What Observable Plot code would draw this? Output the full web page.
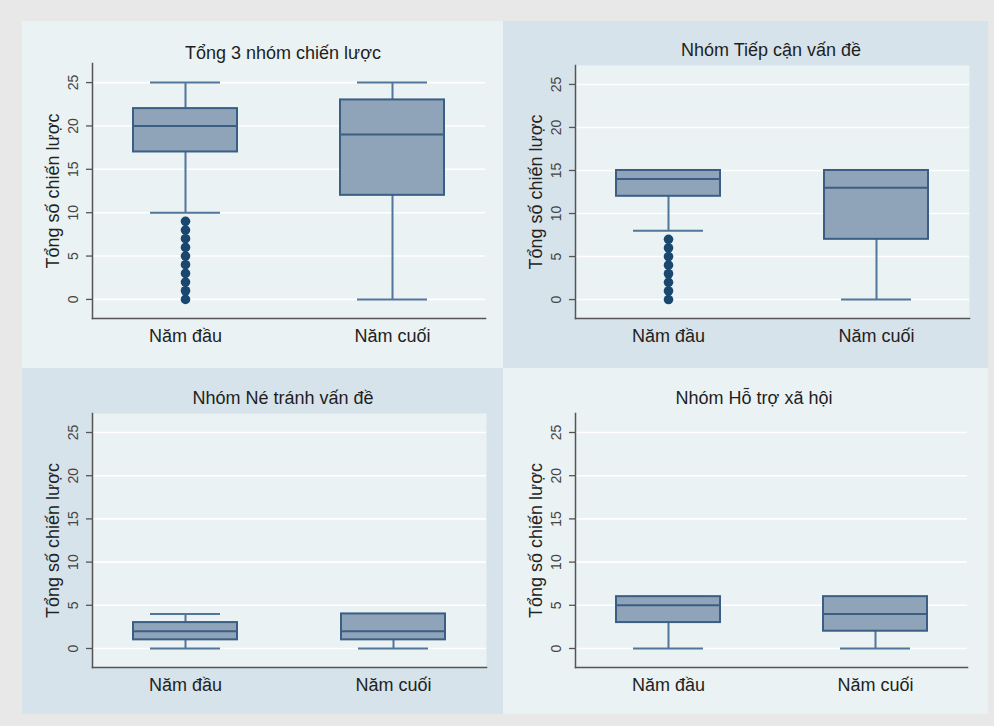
<!DOCTYPE html>
<html><head><meta charset="utf-8">
<script src="https://cdn.jsdelivr.net/npm/d3@7"></script>
<script src="https://cdn.jsdelivr.net/npm/@observablehq/plot@0.6"></script>
<style>
body{margin:0;background:#e8e8e8;}
#wrap{position:relative;width:994px;height:726px;font-family:"Liberation Sans",Arial,sans-serif;}
.panel{position:absolute;}
.panel svg{display:block;}
.title{position:absolute;font-size:18px;color:#1e1e1e;white-space:nowrap;transform:translate(-50%,-50%);line-height:1;}
</style></head><body><div id="wrap"></div>
<script>
// ---- data ----
const years = ["Năm đầu", "Năm cuối"];
const panelTitles = ["Tổng 3 nhóm chiến lược", "Nhóm Tiếp cận vấn đề", "Nhóm Né tránh vấn đề", "Nhóm Hỗ trợ xã hội"];
const yLabel = "Tổng số chiến lược";
const yTicks = [0, 5, 10, 15, 20, 25];
// per panel: [Năm đầu, Năm cuối]
const lowWhisker  = [[10, 0], [8, 0], [0, 0], [0, 0]];
const q1          = [[17, 12], [12, 7], [1, 1], [3, 2]];
const median      = [[20, 19], [14, 13], [2, 2], [5, 4]];
const q3          = [[22, 23], [15, 15], [3, 4], [6, 6]];
const highWhisker = [[25, 25], [15, 15], [4, 4], [6, 6]];
const outliers = [
  [[0, 1, 2, 3, 4, 5, 6, 7, 8, 9], []],
  [[0, 1, 2, 3, 4, 5, 6, 7], []],
  [[], []],
  [[], []]
];

// ---- layout ----
const layout = [
  {left: 22,  top: 21,  w: 481, h: 347, ml: 70, mr: 18, mt: 42, mb: 50, bg: "#eaf2f3", inner: false, tx: 283, ty: 53},
  {left: 503, top: 21,  w: 485, h: 347, ml: 72, mr: 19, mt: 44, mb: 50, bg: "#d7e3ea", inner: true,  tx: 771, ty: 50},
  {left: 22,  top: 368, w: 481, h: 346, ml: 70, mr: 17, mt: 45, mb: 47, bg: "#d7e3ea", inner: true,  tx: 283, ty: 398},
  {left: 503, top: 368, w: 485, h: 346, ml: 72, mr: 21, mt: 45, mb: 47, bg: "#eaf2f3", inner: false, tx: 754, ty: 398}
];

const boxFill = "#8fa3b9", boxStroke = "#3b5e84", whiskerStroke = "#52759a", dotFill = "#1a476f";
const font = "'Liberation Sans', Arial, sans-serif";
const wrap = document.getElementById("wrap");

layout.forEach((L, i) => {
  const rows = years.map((yr, j) => ({year: yr, lo: lowWhisker[i][j], q1: q1[i][j], med: median[i][j], q3: q3[i][j], hi: highWhisker[i][j]}));
  const outs = years.flatMap((yr, j) => outliers[i][j].map(v => ({year: yr, v})));
  const chart = Plot.plot({
    width: L.w, height: L.h,
    marginLeft: L.ml, marginRight: L.mr, marginTop: L.mt, marginBottom: L.mb,
    style: {background: "transparent", fontFamily: font, overflow: "visible"},
    x: {type: "band", domain: years, paddingInner: 0.5, paddingOuter: 0.195, label: null},
    y: {domain: [-2.2, 27.2], label: null},
    marks: [
      L.inner ? Plot.frame({fill: "#eaf2f3", stroke: null}) : null,
      Plot.ruleY(yTicks, {stroke: "#ffffff", strokeWidth: 1.6}),
      Plot.frame({anchor: "left", stroke: "#555", strokeWidth: 1.5}),
      Plot.frame({anchor: "bottom", stroke: "#555", strokeWidth: 1.5}),
      Plot.axisY({ticks: yTicks, tickSize: 6, text: null, label: null, color: "#555", strokeWidth: 1.3}),
      Plot.text(yTicks, {y: d => d, text: d => String(d), frameAnchor: "left", rotate: -90, textAnchor: "middle", lineAnchor: "middle", dx: -19, fontSize: 14, fill: "#444"}),
      Plot.axisX({tickSize: 0, tickPadding: 11, fontSize: 18, label: null, color: "#222"}),
      Plot.text([yLabel], {frameAnchor: "left", rotate: -90, textAnchor: "middle", lineAnchor: "middle", dx: -39, fontSize: 18, fill: "#222", text: d => d}),
      Plot.ruleX(rows, {x: "year", y1: "lo", y2: "q1", stroke: whiskerStroke, strokeWidth: 2}),
      Plot.ruleX(rows, {x: "year", y1: "q3", y2: "hi", stroke: whiskerStroke, strokeWidth: 2}),
      Plot.tickY(rows, {x: "year", y: "lo", insetLeft: 17, insetRight: 17, stroke: whiskerStroke, strokeWidth: 2}),
      Plot.tickY(rows, {x: "year", y: "hi", insetLeft: 17, insetRight: 17, stroke: whiskerStroke, strokeWidth: 2}),
      Plot.barY(rows, {x: "year", y1: "q1", y2: "q3", fill: boxFill, stroke: boxStroke, strokeWidth: 2}),
      Plot.tickY(rows, {x: "year", y: "med", stroke: boxStroke, strokeWidth: 2}),
      Plot.dot(outs, {x: "year", y: "v", r: 4.8, fill: dotFill, stroke: null})
    ]
  });
  const div = document.createElement("div");
  div.className = "panel";
  Object.assign(div.style, {left: L.left + "px", top: L.top + "px", width: L.w + "px", height: L.h + "px", background: L.bg});
  div.appendChild(chart);
  wrap.appendChild(div);
  const t = document.createElement("div");
  t.className = "title";
  t.textContent = panelTitles[i];
  Object.assign(t.style, {left: L.tx + "px", top: L.ty + "px"});
  wrap.appendChild(t);
});
</script>
</body></html>
